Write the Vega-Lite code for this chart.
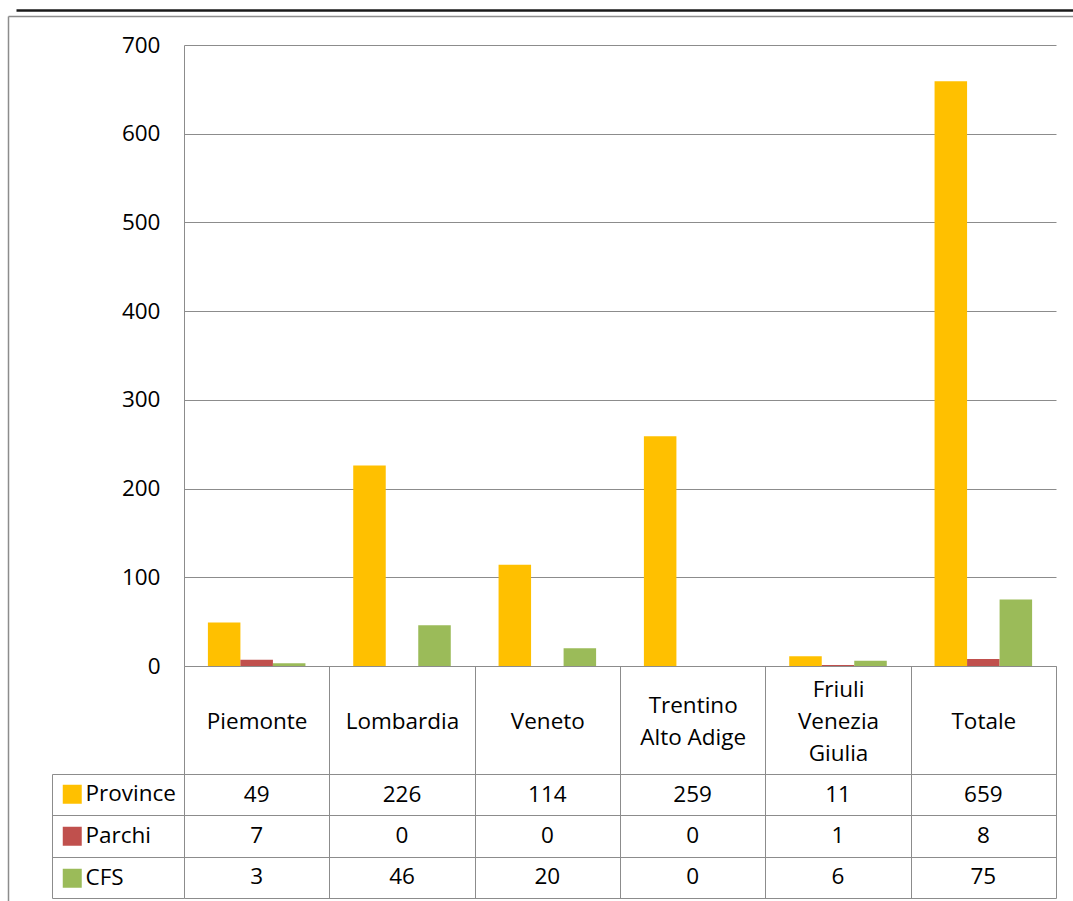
{
  "$schema": "https://vega.github.io/schema/vega-lite/v6.json",
  "width": 872,
  "height": 853,
  "autosize": "none",
  "padding": {"left": 184, "top": 45, "right": 17, "bottom": 3},
  "background": "white",
  "config": {
    "view": {"stroke": null},
    "font": "Open Sans",
    "axis": {"labelFont": "Open Sans", "labelColor": "black"}
  },
  "data": {
    "values": [
      {"region": "Piemonte", "series": "Province", "value": 49},
      {"region": "Piemonte", "series": "Parchi", "value": 7},
      {"region": "Piemonte", "series": "CFS", "value": 3},
      {"region": "Lombardia", "series": "Province", "value": 226},
      {"region": "Lombardia", "series": "Parchi", "value": 0},
      {"region": "Lombardia", "series": "CFS", "value": 46},
      {"region": "Veneto", "series": "Province", "value": 114},
      {"region": "Veneto", "series": "Parchi", "value": 0},
      {"region": "Veneto", "series": "CFS", "value": 20},
      {"region": "Trentino Alto Adige", "series": "Province", "value": 259},
      {"region": "Trentino Alto Adige", "series": "Parchi", "value": 0},
      {"region": "Trentino Alto Adige", "series": "CFS", "value": 0},
      {"region": "Friuli Venezia Giulia", "series": "Province", "value": 11},
      {"region": "Friuli Venezia Giulia", "series": "Parchi", "value": 1},
      {"region": "Friuli Venezia Giulia", "series": "CFS", "value": 6},
      {"region": "Totale", "series": "Province", "value": 659},
      {"region": "Totale", "series": "Parchi", "value": 8},
      {"region": "Totale", "series": "CFS", "value": 75}
    ]
  },
  "layer": [
    {
      "mark": {"type": "point", "opacity": 0},
      "encoding": {
        "x": {"field": "value", "type": "quantitative", "scale": {"domain": [0, 700], "range": [-176, 889], "nice": false},
          "axis": {"orient": "top", "offset": 29, "title": null, "domainColor": "#8c8c8c", "domainWidth": 1.5, "ticks": false, "labels": false, "grid": false}},
        "y": {"field": "value", "type": "quantitative", "scale": {"domain": [0, 700], "range": [856, -29], "nice": false},
          "axis": {"orient": "left", "offset": 176, "title": null, "domainColor": "#8c8c8c", "domainWidth": 1.5, "ticks": false, "labels": false, "grid": false}}
      }
    },
    {
      "mark": {"type": "point", "opacity": 0},
      "encoding": {
        "x": {"field": "value", "type": "quantitative", "scale": {"domain": [0, 700], "range": [-168, 889], "nice": false},
          "axis": {"orient": "top", "offset": 35, "title": null, "domainColor": "#1a1a1a", "domainWidth": 2.5, "ticks": false, "labels": false, "grid": false}},
        "y": {"field": "value", "type": "quantitative", "scale": {"domain": [0, 700], "range": [853, 0], "nice": false}, "axis": null}
      }
    },
    {
      "layer": [
        {
          "mark": {"type": "bar"},
          "encoding": {
            "x": {"field": "region", "type": "nominal",
              "sort": ["Piemonte", "Lombardia", "Veneto", "Trentino Alto Adige", "Friuli Venezia Giulia", "Totale"],
              "scale": {"paddingInner": 0, "paddingOuter": 0},
              "axis": {"orient": "bottom", "offset": -232, "title": null, "domainColor": "#8c8c8c", "tickColor": "#8c8c8c",
                "tickSize": 232, "tickBand": "extent", "labelAngle": 0, "labelFontSize": 22.5, "labelBaseline": "middle",
                "labelPadding": {"condition": [{"test": "datum.value == 'Trentino Alto Adige'", "value": -193}, {"test": "datum.value == 'Friuli Venezia Giulia'", "value": -209}], "value": -177},
                "labelLineHeight": 32, "labelOverlap": false, "labelLimit": 0,
                "labelExpr": "datum.value == 'Trentino Alto Adige' ? ['Trentino', 'Alto Adige'] : (datum.value == 'Friuli Venezia Giulia' ? ['Friuli', 'Venezia', 'Giulia'] : datum.value)"}},
            "xOffset": {"field": "series", "type": "nominal", "sort": ["Province", "Parchi", "CFS"], "scale": {"paddingInner": 0, "paddingOuter": 0.735}},
            "y": {"field": "value", "type": "quantitative", "scale": {"domain": [0, 700], "range": [621, 0], "nice": false},
              "axis": {"orient": "left", "values": [0, 100, 200, 300, 400, 500, 600, 700], "title": null, "grid": true, "gridColor": "#8c8c8c",
                "domainColor": "#8c8c8c", "ticks": false, "labelFontSize": 22.5, "labelPadding": 24}},
            "color": {"field": "series", "type": "nominal",
              "scale": {"domain": ["Province", "Parchi", "CFS"], "range": ["#FFC000", "#C0504D", "#9BBB59"]},
              "legend": {"orient": "none", "legendX": -123, "legendY": 738, "title": null, "symbolType": "square",
                "symbolSize": 361, "symbolStrokeWidth": 0, "symbolOpacity": 1, "labelFontSize": 22.5, "labelFont": "Open Sans",
                "labelColor": "black", "labelOffset": 2, "rowPadding": 19, "padding": 0}}
          }
        },
        {
          "mark": {"type": "text", "fontSize": 22.5, "font": "Open Sans", "color": "black"},
          "encoding": {
            "x": {"field": "region", "type": "nominal",
              "sort": ["Piemonte", "Lombardia", "Veneto", "Trentino Alto Adige", "Friuli Venezia Giulia", "Totale"]},
            "y": {"field": "series", "type": "nominal", "sort": ["Province", "Parchi", "CFS"],
              "scale": {"range": [729, 853], "paddingInner": 0, "paddingOuter": 0},
              "axis": {"orient": "left", "offset": 132, "title": null, "domainColor": "#8c8c8c", "tickColor": "#8c8c8c",
                "tickSize": -132, "tickBand": "extent", "grid": true, "gridColor": "#8c8c8c", "labels": false}},
            "text": {"field": "value", "type": "quantitative"}
          }
        }
      ],
      "resolve": {"scale": {"y": "independent"}, "axis": {"y": "independent"}}
    }
  ],
  "resolve": {"scale": {"x": "independent", "y": "independent"}, "axis": {"x": "independent", "y": "independent"}}
}
